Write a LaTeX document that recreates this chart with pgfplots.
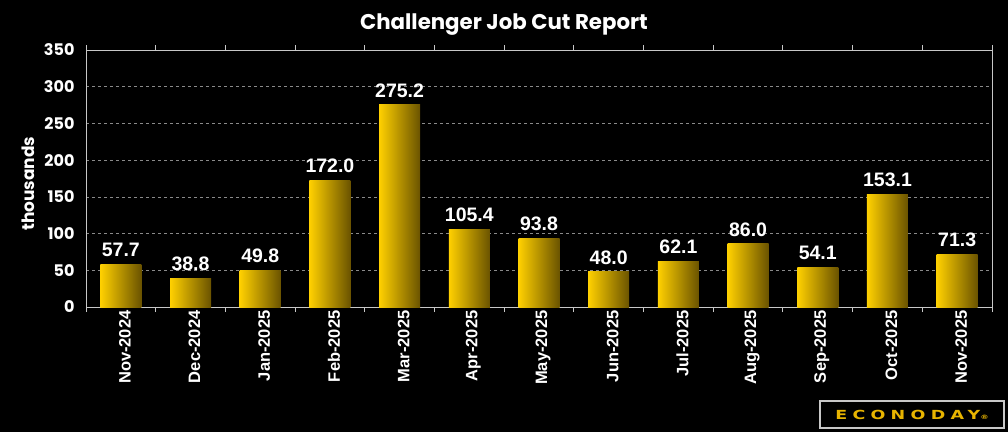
\documentclass[border=0pt]{standalone}
\usepackage{pgfplots}
\pgfplotsset{compat=1.18}
\usepackage{fontspec}
\setmainfont{Liberation Sans}
\newfontfamily\titlefont{Poppins}
\newfontfamily\logofont[LetterSpace=42,FakeStretch=1.4]{DejaVu Sans}
\definecolor{gridgray}{HTML}{8A8A8A}
\definecolor{axisgray}{HTML}{C8C8C8}
\definecolor{barhi}{HTML}{FFD000}
\definecolor{barmid}{HTML}{D4AA00}
\definecolor{barlo}{HTML}{6A5300}
\definecolor{logogold}{HTML}{E8B400}
\begin{document}
\begin{tikzpicture}[x=1pt,y=1pt]
\fill[black] (0,0) rectangle (1008,432);
\useasboundingbox (0,0) rectangle (1008,432);
\begin{axis}[
  at={(86pt,125pt)}, anchor=south west,
  scale only axis, width=906pt, height=257pt,
  ymin=0, ymax=350, ytick={0,50,...,350},
  xmin=-0.5, xmax=12.5,
  xtick={0,...,12},
  xticklabels={Nov-2024,Dec-2024,Jan-2025,Feb-2025,Mar-2025,Apr-2025,May-2025,Jun-2025,Jul-2025,Aug-2025,Sep-2025,Oct-2025,Nov-2025},
  minor xtick={-0.5,0.5,...,12.5},
  major tick length=0pt,
  minor tick length=5pt,
  tick align=outside,
  minor x tick style={draw=axisgray, line width=1pt},
  axis line style={draw=axisgray, line width=1pt},
  ymajorgrids, yminorgrids=false,
  major grid style={draw=gridgray, dashed, line width=0.6pt},
  /pgf/number format/assume math mode=true,
  ticklabel style={text=white},
  yticklabel style={xshift=-8pt, font=\titlefont\bfseries\fontsize{16}{18}\selectfont},
  xticklabel style={rotate=90, anchor=east, yshift=-4pt, font=\bfseries\fontsize{16.5}{18}\selectfont},
  ylabel={thousands},
  ylabel style={at={(axis description cs:-0.064,0.48)}, anchor=center, rotate=0, text=white, font=\titlefont\bfseries\fontsize{17}{19}\selectfont},
  ybar, bar width=41pt, bar shift=0pt,
  nodes near coords={\pgfmathprintnumber[fixed,fixed zerofill,precision=1]{\pgfplotspointmeta}},
  every node near coord/.append style={text=white, font=\bfseries\fontsize{19.5}{21}\selectfont, anchor=south, yshift=4pt},
  clip=false,
  goldbar/.style={draw=none, left color=barhi, middle color=barmid, right color=barlo},
]
\addplot[goldbar] coordinates {(0,57.7)};
\addplot[goldbar] coordinates {(1,38.8)};
\addplot[goldbar] coordinates {(2,49.8)};
\addplot[goldbar] coordinates {(3,172.0)};
\addplot[goldbar] coordinates {(4,275.2)};
\addplot[goldbar] coordinates {(5,105.4)};
\addplot[goldbar] coordinates {(6,93.8)};
\addplot[goldbar] coordinates {(7,48.0)};
\addplot[goldbar] coordinates {(8,62.1)};
\addplot[goldbar] coordinates {(9,86.0)};
\addplot[goldbar] coordinates {(10,54.1)};
\addplot[goldbar] coordinates {(11,153.1)};
\addplot[goldbar] coordinates {(12,71.3)};
\end{axis}
\node[text=white, font=\titlefont\bfseries\fontsize{21.3}{25}\selectfont] at (504,407) {Challenger Job Cut Report};
\node[draw=axisgray, line width=1.2pt, fill=black, minimum width=184pt, minimum height=27pt, inner sep=0pt, text=logogold, font=\logofont\bfseries\fontsize{12.5}{12.5}\selectfont] at (912,17.5) {ECONODAY{\fontsize{6}{6}\selectfont\char"00AE}};
\end{tikzpicture}
\end{document}
